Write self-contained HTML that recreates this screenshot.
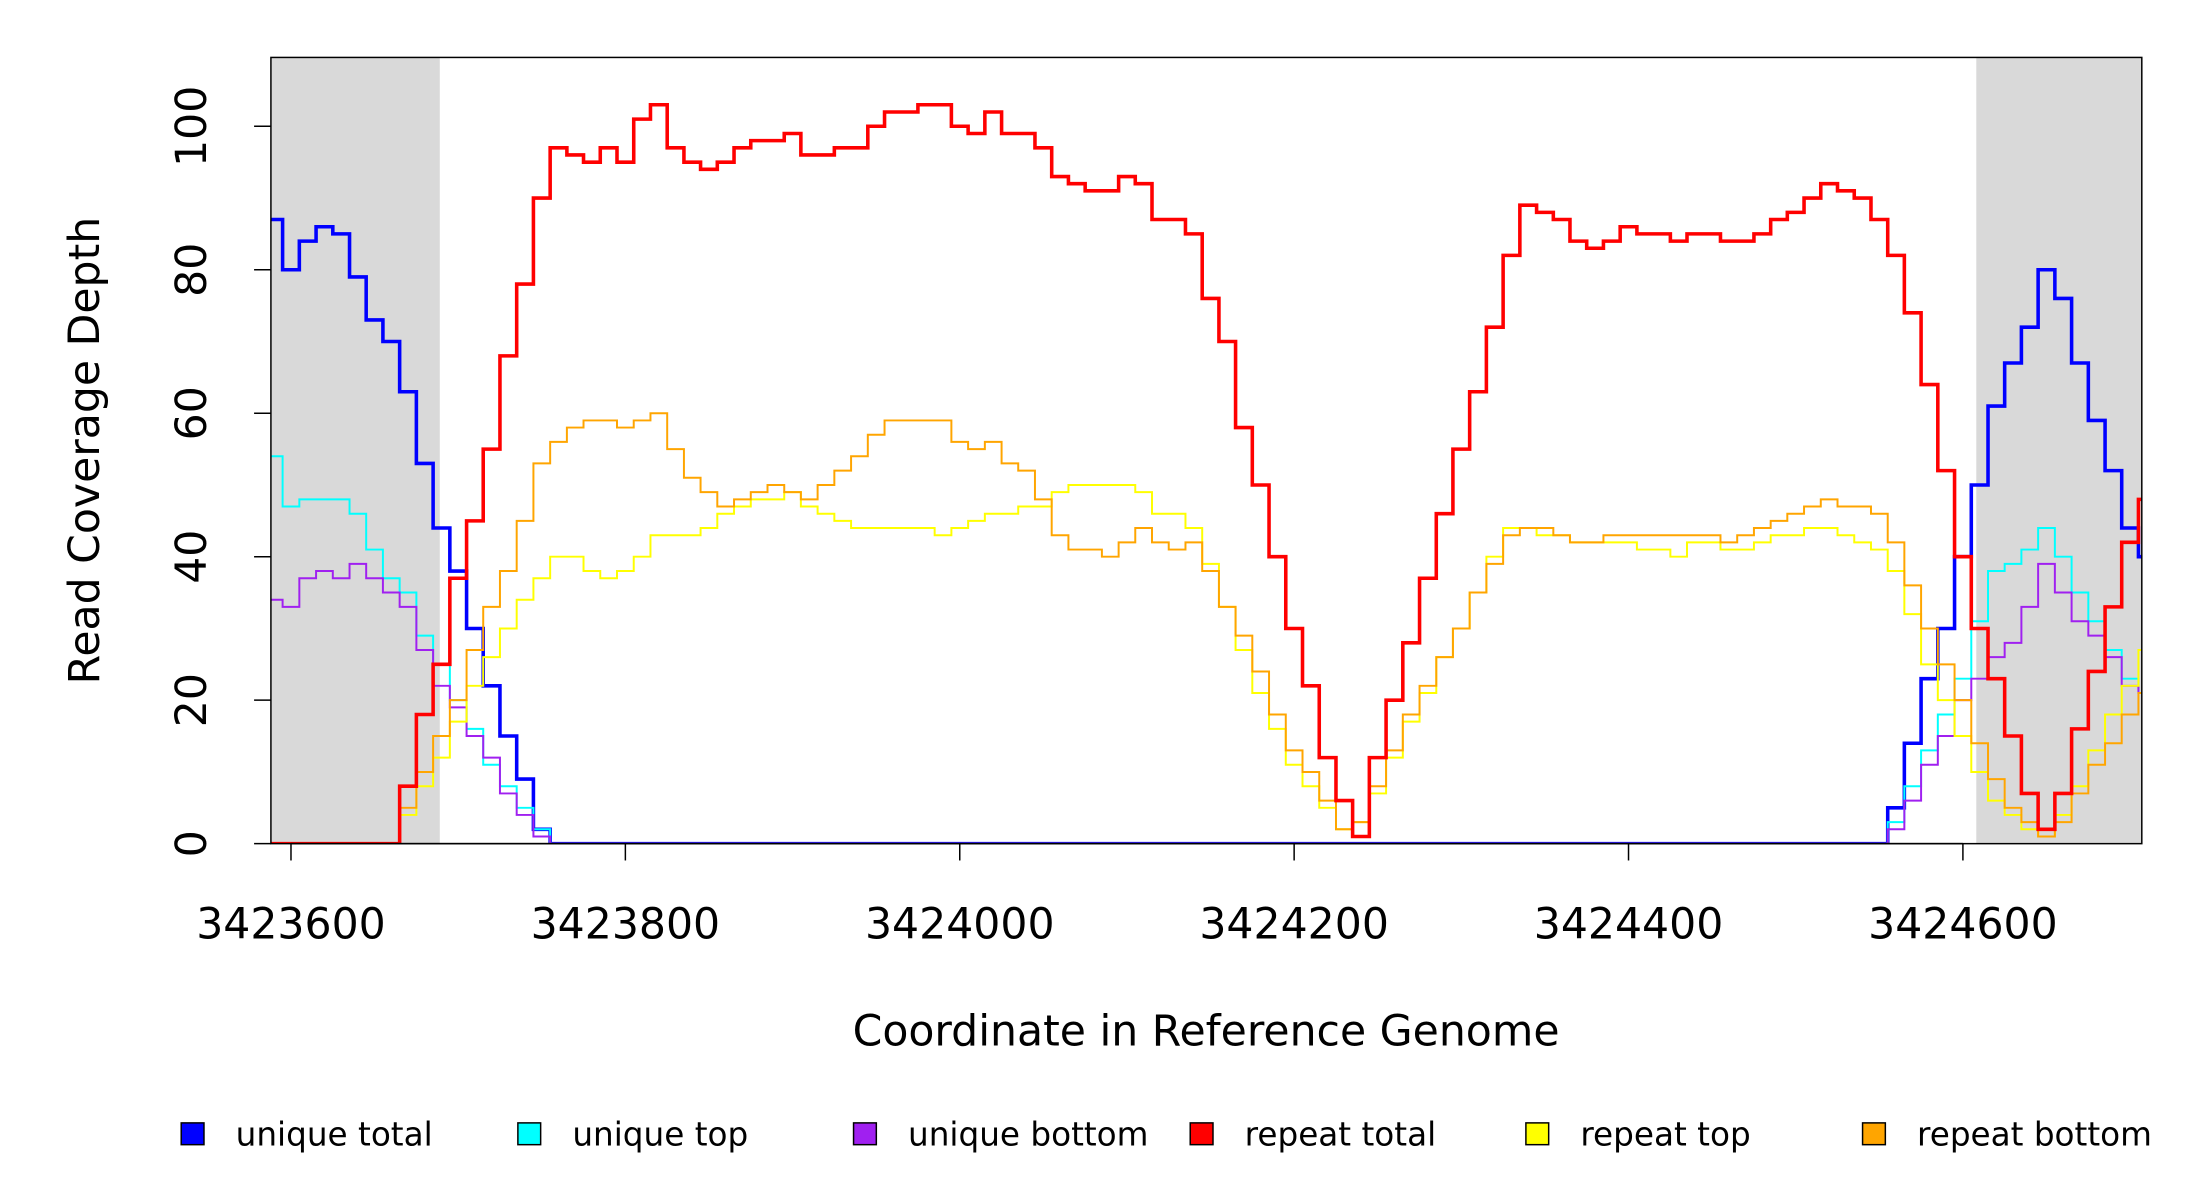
<!DOCTYPE html>
<html><head><meta charset="utf-8"><style>
html,body{margin:0;padding:0;background:#fff;}
svg{display:block;font-family:"DejaVu Sans","Liberation Sans",sans-serif;}
</style></head><body>
<svg id="chart" width="2200" height="1200" viewBox="0 0 2200 1200">
<g id="root" transform="scale(0.9902)">
<g id="shade"></g>
<g id="lines"></g>
<rect x="273.6" y="58" width="1889.4" height="794" fill="none" stroke="#000" stroke-width="1.5"/>
<g id="axes"></g>
<text x="1218" y="1056" font-size="43" text-anchor="middle">Coordinate in Reference Genome</text>
<text transform="translate(100,455) rotate(-90)" font-size="43" text-anchor="middle">Read Coverage Depth</text>
<g id="legend"></g>
</g>
</svg>
<script>
const startBp = 3423585;
const stepBp = 10;
const uniqueTotal = [87,80,84,86,85,79,73,70,63,53,44,38,30,22,15,9,2,0,0,0,0,0,0,0,0,0,0,0,0,0,0,0,0,0,0,0,0,0,0,0,0,0,0,0,0,0,0,0,0,0,0,0,0,0,0,0,0,0,0,0,0,0,0,0,0,0,0,0,0,0,0,0,0,0,0,0,0,0,0,0,0,0,0,0,0,0,0,0,0,0,0,0,0,0,0,0,0,5,14,23,30,40,50,61,67,72,80,76,67,59,52,44,40];
const uniqueTop = [54,47,48,48,48,46,41,37,35,29,25,20,16,11,8,5,2,0,0,0,0,0,0,0,0,0,0,0,0,0,0,0,0,0,0,0,0,0,0,0,0,0,0,0,0,0,0,0,0,0,0,0,0,0,0,0,0,0,0,0,0,0,0,0,0,0,0,0,0,0,0,0,0,0,0,0,0,0,0,0,0,0,0,0,0,0,0,0,0,0,0,0,0,0,0,0,0,3,8,13,18,23,31,38,39,41,44,40,35,31,27,23,21];
const uniqueBottom = [34,33,37,38,37,39,37,35,33,27,22,19,15,12,7,4,1,0,0,0,0,0,0,0,0,0,0,0,0,0,0,0,0,0,0,0,0,0,0,0,0,0,0,0,0,0,0,0,0,0,0,0,0,0,0,0,0,0,0,0,0,0,0,0,0,0,0,0,0,0,0,0,0,0,0,0,0,0,0,0,0,0,0,0,0,0,0,0,0,0,0,0,0,0,0,0,0,2,6,11,15,20,23,26,28,33,39,35,31,29,26,22,21];
const repeatTotal = [0,0,0,0,0,0,0,0,8,18,25,37,45,55,68,78,90,97,96,95,97,95,101,103,97,95,94,95,97,98,98,99,96,96,97,97,100,102,102,103,103,100,99,102,99,99,97,93,92,91,91,93,92,87,87,85,76,70,58,50,40,30,22,12,6,1,12,20,28,37,46,55,63,72,82,89,88,87,84,83,84,86,85,85,84,85,85,84,84,85,87,88,90,92,91,90,87,82,74,64,52,40,30,23,15,7,2,7,16,24,33,42,48];
const repeatTop = [0,0,0,0,0,0,0,0,4,8,12,17,22,26,30,34,37,40,40,38,37,38,40,43,43,43,44,46,47,48,48,49,47,46,45,44,44,44,44,44,43,44,45,46,46,47,47,49,50,50,50,50,49,46,46,44,39,33,27,21,16,11,8,5,2,3,7,12,17,21,26,30,35,40,44,44,43,43,42,42,42,42,41,41,40,42,42,41,41,42,43,43,44,44,43,42,41,38,32,25,20,15,10,6,4,2,1,4,8,13,18,22,27];
const repeatBottom = [0,0,0,0,0,0,0,0,5,10,15,20,27,33,38,45,53,56,58,59,59,58,59,60,55,51,49,47,48,49,50,49,48,50,52,54,57,59,59,59,59,56,55,56,53,52,48,43,41,41,40,42,44,42,41,42,38,33,29,24,18,13,10,6,2,3,8,13,18,22,26,30,35,39,43,44,44,43,42,42,43,43,43,43,43,43,43,42,43,44,45,46,47,48,47,47,46,42,36,30,25,20,14,9,5,3,1,3,7,11,14,18,21];
const xTicks = [3423600,3423800,3424000,3424200,3424400,3424600];
const yTicks = [0,20,40,60,80,100];
const shadeRanges = [[3423588,3423689],[3424608,3424707]];
const legendLabels = ["unique total","unique top","unique bottom","repeat total","repeat top","repeat bottom"];

const NS="http://www.w3.org/2000/svg";
const L=273.6,R=2163,T=58,B=852;
const xMin=3423588,xMax=3424707,yMax=109.6;
function xs(bp){return L+(bp-xMin)/(xMax-xMin)*(R-L);}
function ys(v){return B-v/yMax*(B-T);}
function mk(tag,attrs,parent){const e=document.createElementNS(NS,tag);for(const k in attrs)e.setAttribute(k,attrs[k]);parent.appendChild(e);return e;}

const defs=mk('defs',{},document.getElementById('chart'));
const cp=mk('clipPath',{id:'clip'},defs);
mk('rect',{x:L,y:T,width:R-L,height:B-T},cp);

const shadeG=document.getElementById('shade');
shadeRanges.forEach((r,i)=>{
  const e=mk('rect',{x:xs(r[0]),y:T,width:xs(r[1])-xs(r[0]),height:B-T,fill:'#d9d9d9'},shadeG);
  
  
});

const series=[
 {vals:uniqueTotal,color:'#0000ff',w:3.6,name:'unique-total-line'},
 {vals:uniqueTop,color:'#00ffff',w:2,name:'unique-top-line'},
 {vals:uniqueBottom,color:'#a020f0',w:2,name:'unique-bottom-line'},
 {vals:repeatTop,color:'#ffff00',w:2,name:'repeat-top-line'},
 {vals:repeatBottom,color:'#ffa500',w:2,name:'repeat-bottom-line'},
 {vals:repeatTotal,color:'#ff0000',w:3.6,name:'repeat-total-line'}
];
const linesG=document.getElementById('lines');
linesG.setAttribute('clip-path','url(#clip)');
series.forEach(s=>{
  let d='';
  s.vals.forEach((v,i)=>{
    const x=xs(startBp+i*stepBp), y=ys(v);
    if(i===0) d+='M'+(L-5)+','+y.toFixed(1)+'H'+x.toFixed(1);
    else d+='H'+x.toFixed(1)+'V'+y.toFixed(1);
  });
  d+='H'+(R+5);
  const p=mk('path',{d:d,fill:'none',stroke:s.color,'stroke-width':s.w,'stroke-linejoin':'miter'},linesG);
  
  
});

const axG=document.getElementById('axes');
xTicks.forEach(t=>{
  const x=xs(t);
  const ln=mk('line',{x1:x,x2:x,y1:B,y2:B+17,stroke:'#000','stroke-width':1.5},axG);
  
  
  const tx=mk('text',{x:x,y:948,'font-size':43,'text-anchor':'middle'},axG);
  tx.textContent=t;
  
  
});
mk('line',{x1:xs(xTicks[0]),x2:xs(xTicks[xTicks.length-1]),y1:B,y2:B,stroke:'#000','stroke-width':1.5},axG);
yTicks.forEach(t=>{
  const y=ys(t);
  const ln=mk('line',{x1:L-17,x2:L,y1:y,y2:y,stroke:'#000','stroke-width':1.5},axG);
  
  
  const tx=mk('text',{transform:'translate(208,'+y+') rotate(-90)','font-size':43,'text-anchor':'middle'},axG);
  tx.textContent=t;
  
  
});

const legG=document.getElementById('legend');
const legX=[194,534,873,1213,1552,1892];
const legCol=['#0000ff','#00ffff','#a020f0','#ff0000','#ffff00','#ffa500'];
legendLabels.forEach((lab,i)=>{
  const g=mk('g',{},legG);
  
  
  mk('rect',{x:legX[i]-11,y:1134,width:23,height:22,fill:legCol[i],stroke:'#000','stroke-width':1.5},g);
  const tx=mk('text',{x:legX[i]+44,y:1157,'font-size':33},g);
  tx.textContent=lab;
});
</script>
</body></html>
